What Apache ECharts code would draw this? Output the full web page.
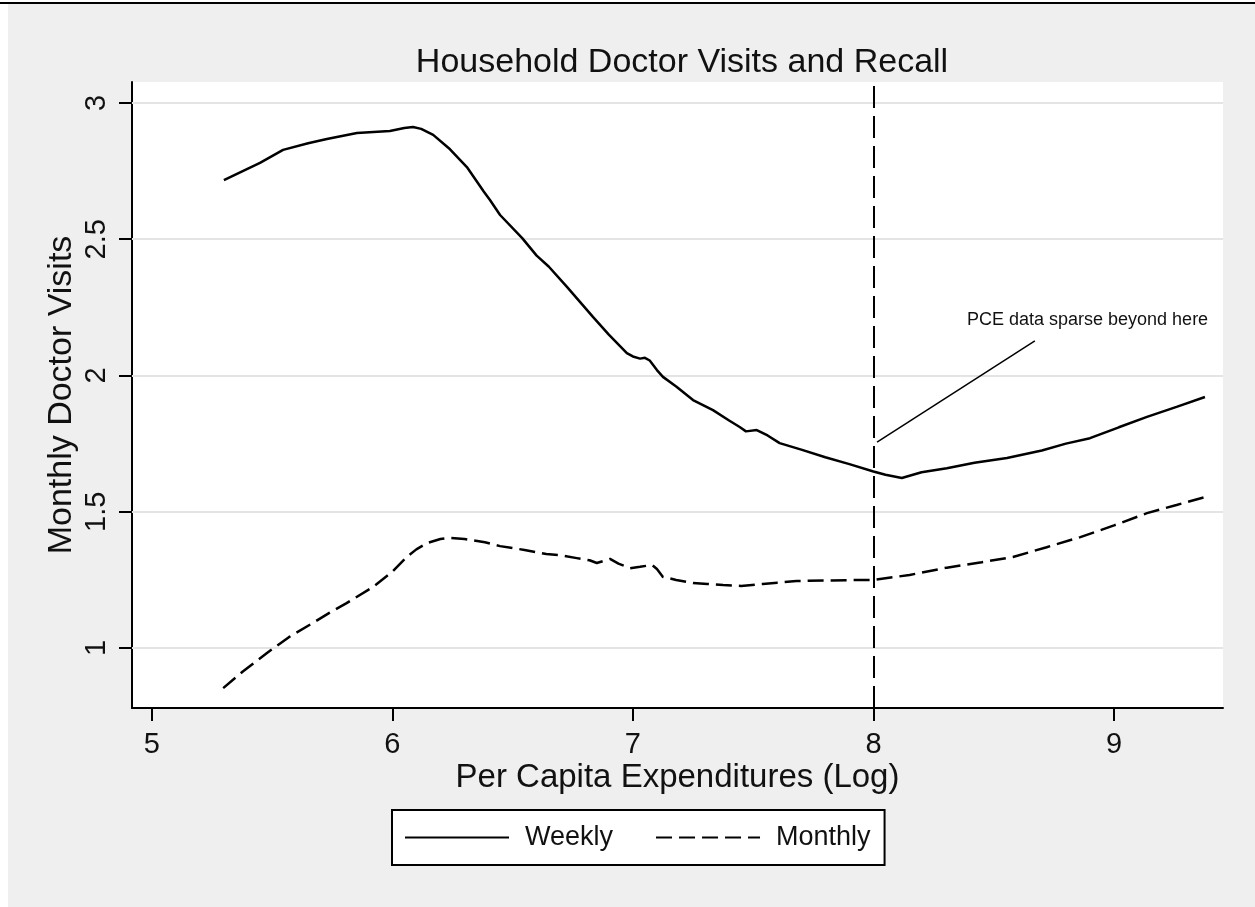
<!DOCTYPE html>
<html>
<head>
    <meta charset="utf-8">
    <title>Household Doctor Visits and Recall</title>
    <script src="https://cdn.jsdelivr.net/npm/echarts@6/dist/echarts.min.js"></script>
    <style>
        body { margin: 0; background: #ffffff; }
        #wrap { position: relative; width: 1255px; height: 907px; overflow: hidden; }
        #bg { position: absolute; left: 8px; top: 4px; width: 1247px; height: 903px; background: #efefef; }
        #topline { position: absolute; left: 0; top: 2px; width: 1255px; height: 2px; background: #000; }
        #main { position: absolute; left: 0; top: 0; width: 1255px; height: 907px; }
    </style>
</head>
<body>
<div id="wrap">
    <div id="bg"></div>
    <div id="topline"></div>
    <div id="main"></div>
</div>
<script type="text/javascript">
    // x = log per capita expenditures, y = monthly doctor visits
    var weeklyX = [5.30, 5.45, 5.546, 5.65, 5.728, 5.853, 5.99, 6.05, 6.086, 6.12, 6.17, 6.24, 6.31, 6.38, 6.406, 6.448,
        6.54, 6.60, 6.65, 6.726, 6.78, 6.834, 6.90, 6.975, 7.00, 7.03, 7.05, 7.07, 7.10, 7.125, 7.18, 7.25, 7.333,
        7.40, 7.444, 7.47, 7.515, 7.56, 7.61, 7.70, 7.80, 7.90, 8.00, 8.05, 8.118, 8.20, 8.305, 8.42, 8.555, 8.70,
        8.80, 8.90, 9.02, 9.137, 9.26, 9.378];
    var weeklyY = [2.717, 2.78, 2.828, 2.852, 2.868, 2.89, 2.897, 2.908, 2.912, 2.905, 2.883, 2.83, 2.765, 2.675, 2.644, 2.589,
        2.504, 2.44, 2.40, 2.325, 2.27, 2.215, 2.15, 2.082, 2.07, 2.062, 2.065, 2.055, 2.02, 1.995, 1.96, 1.91, 1.873,
        1.835, 1.811, 1.795, 1.80, 1.78, 1.752, 1.728, 1.70, 1.675, 1.648, 1.636, 1.624, 1.645, 1.66, 1.68, 1.697, 1.725,
        1.75, 1.77, 1.81, 1.848, 1.885, 1.921];

    var monthlyX = [5.297, 5.38, 5.479, 5.57, 5.67, 5.74, 5.81, 5.92, 6.00, 6.06, 6.10, 6.144, 6.20, 6.24, 6.30, 6.385,
        6.448, 6.55, 6.64, 6.70, 6.767, 6.82, 6.85, 6.905, 6.94, 6.988, 7.03, 7.08, 7.10, 7.125, 7.18, 7.25, 7.31,
        7.375, 7.45, 7.54, 7.60, 7.68, 7.80, 7.89, 8.00, 8.15, 8.305, 8.45, 8.58, 8.72, 8.86, 9.00, 9.137, 9.26, 9.378];
    var monthlyY = [0.853, 0.915, 0.982, 1.04, 1.092, 1.13, 1.165, 1.224, 1.28, 1.334, 1.362, 1.385, 1.40, 1.404, 1.40, 1.388,
        1.374, 1.36, 1.345, 1.34, 1.33, 1.322, 1.312, 1.327, 1.31, 1.293, 1.298, 1.305, 1.29, 1.261, 1.25, 1.239, 1.235,
        1.231, 1.228, 1.235, 1.24, 1.246, 1.248, 1.249, 1.25, 1.268, 1.295, 1.315, 1.334, 1.37, 1.407, 1.45, 1.495, 1.525, 1.554];

    var xTicks = [5, 6, 7, 8, 9];
    var yTicks = [1, 1.5, 2, 2.5, 3];
    var cutoffX = 8;
    var noteLine = [[8.015, 1.756], [8.671, 2.127]];
    var notePos = [8.89, 2.204];
    var noteText = 'PCE data sparse beyond here';

    function pairs(xs, ys) {
        var out = [];
        for (var i = 0; i < xs.length; i++) out.push([xs[i], ys[i]]);
        return out;
    }

    var font = '"Liberation Sans", Arial, sans-serif';
    var myChart = echarts.init(document.getElementById('main'));

    var option = {
        backgroundColor: 'transparent',
        animation: false,
        title: {
            text: 'Household Doctor Visits and Recall',
            left: 677,
            textAlign: 'center',
            top: 41,
            textStyle: { fontFamily: font, fontSize: 34, fontWeight: 'normal', color: '#111' }
        },
        legend: {
            left: 392,
            top: 810,
            padding: [14, 14, 14, 12],
            backgroundColor: '#ffffff',
            borderColor: '#000',
            borderWidth: 2,
            itemWidth: 104,
            itemHeight: 30,
            itemGap: 42,
            itemStyle: { opacity: 0 },
            textStyle: { fontFamily: font, fontSize: 27, color: '#111', padding: [0, 0, 0, 11] },
            data: ['Weekly', 'Monthly']
        },
        grid: {
            left: 132,
            top: 82,
            right: 32,
            bottom: 199,
            show: true,
            backgroundColor: '#ffffff',
            borderWidth: 0
        },
        xAxis: {
            type: 'value',
            min: 4.918,
            max: 9.453,
            name: 'Per Capita Expenditures (Log)',
            nameLocation: 'middle',
            nameGap: 53,
            nameMoveOverlap: false,
            nameTextStyle: { fontFamily: font, fontSize: 33, color: '#111' },
            axisLine: { show: true, onZero: false, lineStyle: { color: '#000', width: 2 } },
            axisTick: { show: true, length: 13, lineStyle: { color: '#000', width: 2 }, customValues: xTicks },
            axisLabel: { fontFamily: font, fontSize: 29, color: '#111', margin: 22, customValues: xTicks },
            splitLine: { show: false }
        },
        yAxis: {
            type: 'value',
            min: 0.78,
            max: 3.077,
            name: 'Monthly Doctor Visits',
            nameLocation: 'middle',
            nameRotate: 90,
            nameGap: 53,
            nameMoveOverlap: false,
            nameTextStyle: { fontFamily: font, fontSize: 34, color: '#111' },
            axisLine: { show: true, onZero: false, lineStyle: { color: '#000', width: 2 } },
            axisTick: { show: true, length: 13, lineStyle: { color: '#000', width: 2 }, customValues: yTicks },
            axisLabel: { fontFamily: font, fontSize: 29, color: '#111', rotate: 90, margin: 21, customValues: yTicks },
            splitLine: { show: false }
        },
        series: [{
            name: 'Weekly',
            type: 'line',
            symbol: 'none',
            data: pairs(weeklyX, weeklyY),
            lineStyle: { color: '#000', width: 2.5 },
            itemStyle: { color: '#000' },
            z: 5,
            markLine: {
                silent: true,
                symbol: 'none',
                label: { show: false },
                lineStyle: { color: '#e4e4e4', width: 2, type: 'solid' },
                z: 1,
                data: yTicks.map(function (v) { return { yAxis: v }; })
            }
        }, {
            name: 'Monthly',
            type: 'line',
            symbol: 'none',
            data: pairs(monthlyX, monthlyY),
            lineStyle: { color: '#000', width: 2.5, type: [16, 7] },
            itemStyle: { color: '#000' },
            z: 5,
            markLine: {
                silent: true,
                symbol: 'none',
                label: { show: false },
                z: 6,
                data: [
                    { xAxis: cutoffX, lineStyle: { color: '#000', width: 2, type: [22, 8] } },
                    [{ coord: noteLine[0], lineStyle: { color: '#000', width: 1.5, type: 'solid' } }, { coord: noteLine[1] }]
                ]
            },
            markPoint: {
                silent: true,
                symbol: 'circle',
                symbolSize: 0,
                label: {
                    show: true,
                    formatter: noteText,
                    position: 'inside',
                    fontFamily: font,
                    fontSize: 18,
                    color: '#111'
                },
                data: [{ coord: notePos }]
            }
        }]
    };
    myChart.setOption(option);
</script>
</body>
</html>
